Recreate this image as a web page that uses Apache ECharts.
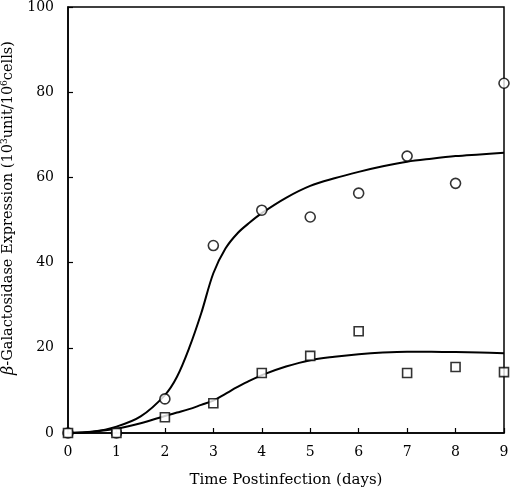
<!DOCTYPE html>
<html>
<head>
<meta charset="utf-8">
<script src="https://cdn.jsdelivr.net/npm/echarts@6/dist/echarts.min.js"></script>
<style>
html,body{margin:0;padding:0;background:#fff;}
#chart{width:510px;height:493px;}
</style>
</head>
<body>
<div id="chart"></div>
<script>
// measured points
var days = [0, 1, 2, 3, 4, 5, 6, 7, 8, 9]
var circleVals = [0, 0, 8, 44, 52.3, 50.7, 56.3, 65, 58.6, 82.1]
var squareVals = [0, 0, 3.7, 7, 14.1, 18.1, 23.9, 14.1, 15.5, 14.3]
// fitted curves
var fitX = [0, 0.5, 1, 1.5, 2, 2.25, 2.5, 2.75, 3, 3.25, 3.5, 3.75, 4, 4.5, 5, 5.5, 6, 6.5, 7, 7.5, 8, 8.5, 9]
var upperFit = [0, 0.3, 1.5, 3.9, 8.9, 13.2, 19.9, 28.1, 37.5, 43.3, 46.9, 49.4, 51.6, 55.2, 58.0, 59.8, 61.3, 62.6, 63.7, 64.4, 65.0, 65.4, 65.8]
var lowerFit = [0, 0.3, 1.0, 2.3, 4.0, 4.8, 5.6, 6.6, 7.6, 9.2, 10.8, 12.3, 13.6, 15.6, 17.1, 17.9, 18.5, 18.9, 19.1, 19.1, 19.0, 18.9, 18.7]
var xTicks = ['0', '1', '2', '3', '4', '5', '6', '7', '8', '9']

function pairs(xs, ys){
	let out = []
	for(let i=0,len=xs.length;i<len;i++){
		out.push([xs[i], ys[i]])
	}
	return out
}

var fontFam = 'DejaVu Serif'
var chart = echarts.init(document.getElementById('chart'))
var option = {
	animation: false,
	backgroundColor: '#fff',
	textStyle: {fontFamily: fontFam, color: '#000'},
	grid: {
		left: 68, right: 6, top: 7, bottom: 60,
		outerBoundsMode: 'none',
		containLabel: false,
		show: true, borderColor: '#000', borderWidth: 1.5
	},
	xAxis: {
		type: 'value',
		min: 0, max: 9, interval: 1,
		name: 'Time Postinfection (days)',
		nameLocation: 'middle',
		nameGap: 40,
		nameTextStyle: {fontFamily: fontFam, fontSize: 15, color: '#000'},
		axisLine: {show: true, lineStyle: {color: '#000', width: 1.5}},
		axisTick: {show: true, inside: true, length: 5, lineStyle: {color: '#000', width: 1.2}},
		axisLabel: {
			color: '#000', fontFamily: fontFam, fontSize: 14, margin: 12,
			formatter: function(v){ return xTicks[v] }
		},
		splitLine: {show: false}
	},
	yAxis: {
		type: 'value',
		min: 0, max: 100, interval: 20,
		name: '{b|β}-Galactosidase Expression (10{s|3}unit/10{s|6}cells)',
		nameLocation: 'middle',
		nameGap: 43,
		nameRotate: 90,
		nameTextStyle: {
			fontFamily: fontFam, fontSize: 14.5, color: '#000',
			padding: [0, 0, 0, 24],
			rich: {
				b: {fontFamily: fontFam, fontSize: 16, fontStyle: 'italic', color: '#000'},
				s: {fontFamily: fontFam, fontSize: 9, color: '#000', padding: [0, 0, 8, 0]}
			}
		},
		axisLine: {show: true, lineStyle: {color: '#000', width: 1.5}},
		axisTick: {show: true, inside: true, length: 5, lineStyle: {color: '#000', width: 1.2}},
		axisLabel: {color: '#000', fontFamily: fontFam, fontSize: 14, margin: 14},
		splitLine: {show: false}
	},
	series: [
		{
			name: 'upper fit',
			type: 'line',
			data: pairs(fitX, upperFit),
			smooth: 0.33,
			showSymbol: false,
			lineStyle: {color: '#000', width: 2},
			z: 2
		},
		{
			name: 'lower fit',
			type: 'line',
			data: pairs(fitX, lowerFit),
			smooth: 0.33,
			showSymbol: false,
			lineStyle: {color: '#000', width: 2},
			z: 2
		},
		{
			name: 'circles',
			type: 'scatter',
			data: pairs(days, circleVals),
			symbol: 'circle',
			symbolSize: 10,
			itemStyle: {color: '#fff', borderColor: '#000', borderWidth: 1.6},
			z: 5
		},
		{
			name: 'squares',
			type: 'scatter',
			data: pairs(days, squareVals),
			symbol: 'rect',
			symbolSize: 9,
			itemStyle: {color: '#fff', borderColor: '#000', borderWidth: 1.6},
			z: 6
		}
	]
}
chart.setOption(option)
</script>
</body>
</html>
